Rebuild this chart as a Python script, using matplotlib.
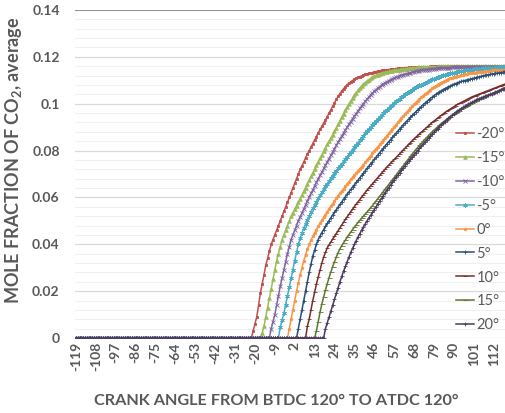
import numpy as np
import matplotlib
matplotlib.use("Agg")
import matplotlib.pyplot as plt

plt.rcParams['font.family'] = ['Lato', 'DejaVu Sans']
plt.rcParams['mathtext.default'] = 'regular'

# crank angle categories, one per degree
angles = np.arange(-119, 121)
tick_angles = list(range(-119, 121, 11))

labels = ['-20°', '-15°', '-10°', '-5°', '0°', '5°', '10°', '15°', '20°']
# first crank angle with non-zero CO2 for each injection timing
rise_start = [-21, -16, -11, -6, -1, 4, 9, 14, 19]

co2_m20 = [
    0.003, 0.006, 0.009, 0.014, 0.019, 0.023, 0.027, 0.031, 0.034, 0.037,
    0.040, 0.042, 0.044, 0.046, 0.048, 0.050, 0.052, 0.054, 0.056, 0.058,
    0.060, 0.062, 0.064, 0.066, 0.068, 0.070, 0.072, 0.0735, 0.075, 0.077,
    0.0785, 0.080, 0.0815, 0.083, 0.0845, 0.086, 0.0875, 0.089, 0.0903, 0.0917,
    0.0931, 0.0945, 0.0960, 0.0975, 0.0990, 0.1004, 0.1018, 0.1031, 0.1043, 0.1054,
    0.1064, 0.1073, 0.1081, 0.1088, 0.1094, 0.1099, 0.1104, 0.1108, 0.1112, 0.1116,
    0.1119, 0.1122, 0.1125, 0.1127, 0.1129, 0.1131, 0.1133, 0.1135, 0.1137, 0.1139,
    0.1140, 0.1142, 0.1143, 0.1144, 0.1145, 0.1146, 0.1147, 0.1148, 0.1149, 0.1150,
    0.1151, 0.1152, 0.1153, 0.1153, 0.1154, 0.1154, 0.1155, 0.1155, 0.1156, 0.1156,
    0.1157, 0.1157, 0.1157, 0.1158, 0.1158, 0.1158, 0.1158, 0.1158, 0.1159, 0.1159,
    0.1159, 0.1159, 0.1159, 0.1159, 0.1159, 0.1159, 0.1159, 0.1159, 0.1159, 0.1159,
    0.1159, 0.1159, 0.1160, 0.1160, 0.1160, 0.1160, 0.1160, 0.1160, 0.1160, 0.1160,
    0.1160, 0.1160, 0.1160, 0.1160, 0.1160, 0.1160, 0.1160, 0.1160, 0.1160, 0.1160,
    0.1160, 0.1160, 0.1160, 0.1160, 0.1160, 0.1160, 0.1160, 0.1160, 0.1160, 0.1160,
    0.1160, 0.1160,
]
co2_m15 = [
    0.002, 0.005, 0.009, 0.013, 0.017, 0.021, 0.025, 0.029, 0.033, 0.036,
    0.039, 0.042, 0.044, 0.046, 0.048, 0.050, 0.052, 0.0535, 0.055, 0.0565,
    0.058, 0.0595, 0.061, 0.0626, 0.0642, 0.0658, 0.0674, 0.069, 0.0706, 0.0722,
    0.0737, 0.0752, 0.0767, 0.0782, 0.0797, 0.0812, 0.0826, 0.0840, 0.0854, 0.0868,
    0.0882, 0.0896, 0.0912, 0.0928, 0.0943, 0.0958, 0.0972, 0.0986, 0.0999, 0.1012,
    0.1024, 0.1036, 0.1047, 0.1057, 0.1066, 0.1075, 0.1083, 0.1090, 0.1097, 0.1103,
    0.1108, 0.1113, 0.1117, 0.1121, 0.1124, 0.1127, 0.1130, 0.1132, 0.1134, 0.1136,
    0.1138, 0.1140, 0.1141, 0.1143, 0.1144, 0.1145, 0.1146, 0.1147, 0.1148, 0.1149,
    0.1150, 0.1151, 0.1152, 0.1153, 0.1154, 0.1154, 0.1155, 0.1155, 0.1156, 0.1156,
    0.1157, 0.1157, 0.1157, 0.1158, 0.1158, 0.1158, 0.1158, 0.1158, 0.1159, 0.1159,
    0.1159, 0.1159, 0.1159, 0.1159, 0.1159, 0.1159, 0.1159, 0.1159, 0.1159, 0.1159,
    0.1159, 0.1159, 0.1160, 0.1160, 0.1160, 0.1160, 0.1160, 0.1160, 0.1160, 0.1160,
    0.1160, 0.1160, 0.1160, 0.1160, 0.1160, 0.1160, 0.1160, 0.1160, 0.1160, 0.1160,
    0.1160, 0.1160, 0.1160, 0.1160, 0.1160, 0.1160, 0.1160,
]
co2_m10 = [
    0.004, 0.007, 0.010, 0.014, 0.018, 0.022, 0.0255, 0.029, 0.0325, 0.036,
    0.039, 0.042, 0.044, 0.046, 0.048, 0.050, 0.0517, 0.0534, 0.0551, 0.0568,
    0.0585, 0.0601, 0.0617, 0.0633, 0.0649, 0.0664, 0.0679, 0.0694, 0.0709, 0.0724,
    0.0738, 0.0752, 0.0766, 0.0780, 0.0794, 0.0808, 0.0822, 0.0836, 0.0849, 0.0862,
    0.0875, 0.0888, 0.0900, 0.0912, 0.0924, 0.0936, 0.0947, 0.0958, 0.0969, 0.0980,
    0.0990, 0.1000, 0.1010, 0.1019, 0.1028, 0.1037, 0.1045, 0.1053, 0.1060, 0.1067,
    0.1073, 0.1079, 0.1084, 0.1089, 0.1094, 0.1098, 0.1102, 0.1106, 0.1110, 0.1113,
    0.1116, 0.1119, 0.1122, 0.1124, 0.1126, 0.1128, 0.1130, 0.1132, 0.1134, 0.1136,
    0.1138, 0.1140, 0.1141, 0.1142, 0.1143, 0.1144, 0.1145, 0.1146, 0.1147, 0.1148,
    0.1149, 0.1150, 0.1151, 0.1151, 0.1152, 0.1152, 0.1153, 0.1153, 0.1154, 0.1154,
    0.1155, 0.1155, 0.1155, 0.1156, 0.1156, 0.1156, 0.1157, 0.1157, 0.1157, 0.1157,
    0.1158, 0.1158, 0.1158, 0.1158, 0.1158, 0.1158, 0.1158, 0.1158, 0.1158, 0.1158,
    0.1158, 0.1158, 0.1158, 0.1158, 0.1158, 0.1158, 0.1158, 0.1158, 0.1158, 0.1158,
    0.1158, 0.1158,
]
co2_m5 = [
    0.0046, 0.0075, 0.0105, 0.0142, 0.018, 0.0218, 0.0255, 0.0292, 0.033, 0.0365,
    0.0400, 0.0425, 0.0448, 0.0468, 0.0487, 0.0505, 0.0522, 0.0538, 0.0553, 0.0568,
    0.0582, 0.0596, 0.0609, 0.0622, 0.0635, 0.0647, 0.0659, 0.0671, 0.0682, 0.0693,
    0.0704, 0.0714, 0.0724, 0.0734, 0.0744, 0.0754, 0.0764, 0.0774, 0.0784, 0.0794,
    0.0804, 0.0814, 0.0824, 0.0834, 0.0844, 0.0854, 0.0864, 0.0873, 0.0882, 0.0891,
    0.0900, 0.0909, 0.0918, 0.0927, 0.0935, 0.0943, 0.0951, 0.0959, 0.0967, 0.0975,
    0.0982, 0.0989, 0.0996, 0.1003, 0.1010, 0.1016, 0.1022, 0.1028, 0.1034, 0.1040,
    0.1045, 0.1050, 0.1055, 0.1060, 0.1065, 0.1070, 0.1074, 0.1078, 0.1082, 0.1086,
    0.1090, 0.1094, 0.1098, 0.1101, 0.1104, 0.1107, 0.1110, 0.1113, 0.1116, 0.1119,
    0.1121, 0.1123, 0.1125, 0.1127, 0.1129, 0.1131, 0.1133, 0.1135, 0.1137, 0.1139,
    0.1140, 0.1141, 0.1142, 0.1143, 0.1144, 0.1145, 0.1146, 0.1147, 0.1148, 0.1149,
    0.1150, 0.1150, 0.1151, 0.1151, 0.1152, 0.1152, 0.1153, 0.1153, 0.1154, 0.1154,
    0.1155, 0.1155, 0.1155, 0.1156, 0.1156, 0.1156, 0.1157,
]
co2_0 = [
    0.004, 0.008, 0.012, 0.016, 0.020, 0.0235, 0.027, 0.030, 0.033, 0.0355,
    0.038, 0.040, 0.0418, 0.0434, 0.0449, 0.0463, 0.0476, 0.0489, 0.0502, 0.0515,
    0.0527, 0.0539, 0.0551, 0.0563, 0.0574, 0.0585, 0.0596, 0.0607, 0.0617, 0.0627,
    0.0637, 0.0647, 0.0657, 0.0667, 0.0677, 0.0686, 0.0695, 0.0704, 0.0713, 0.0722,
    0.0731, 0.0740, 0.0750, 0.0759, 0.0769, 0.0778, 0.0788, 0.0797, 0.0807, 0.0816,
    0.0826, 0.0835, 0.0845, 0.0854, 0.0864, 0.0873, 0.0883, 0.0892, 0.0902, 0.0911,
    0.0920, 0.0929, 0.0938, 0.0947, 0.0956, 0.0965, 0.0973, 0.0981, 0.0989, 0.0997,
    0.1005, 0.1013, 0.1020, 0.1027, 0.1034, 0.1041, 0.1047, 0.1053, 0.1059, 0.1065,
    0.1071, 0.1076, 0.1081, 0.1086, 0.1090, 0.1094, 0.1098, 0.1102, 0.1105, 0.1108,
    0.1111, 0.1114, 0.1116, 0.1118, 0.1120, 0.1122, 0.1124, 0.1126, 0.1127, 0.1129,
    0.1130, 0.1131, 0.1132, 0.1133, 0.1134, 0.1135, 0.1136, 0.1137, 0.1138, 0.1139,
    0.1140, 0.1141, 0.1142, 0.1142, 0.1143, 0.1143, 0.1144, 0.1144, 0.1145, 0.1145,
    0.1146, 0.1146,
]
co2_p5 = [
    0.004, 0.008, 0.012, 0.016, 0.020, 0.024, 0.028, 0.0315, 0.035, 0.0375,
    0.040, 0.042, 0.0435, 0.045, 0.0463, 0.0476, 0.0489, 0.0501, 0.0513, 0.0525,
    0.0537, 0.0548, 0.0559, 0.0570, 0.0581, 0.0592, 0.0603, 0.0614, 0.0624, 0.0634,
    0.0644, 0.0654, 0.0664, 0.0674, 0.0684, 0.0694, 0.0704, 0.0714, 0.0724, 0.0734,
    0.0744, 0.0753, 0.0763, 0.0772, 0.0782, 0.0791, 0.0801, 0.0810, 0.0820, 0.0829,
    0.0838, 0.0847, 0.0856, 0.0865, 0.0874, 0.0883, 0.0892, 0.0901, 0.0910, 0.0918,
    0.0926, 0.0934, 0.0942, 0.0950, 0.0958, 0.0966, 0.0974, 0.0981, 0.0988, 0.0995,
    0.1002, 0.1009, 0.1016, 0.1022, 0.1028, 0.1034, 0.1040, 0.1045, 0.1050, 0.1055,
    0.1060, 0.1064, 0.1068, 0.1072, 0.1076, 0.1080, 0.1083, 0.1086, 0.1089, 0.1092,
    0.1095, 0.1097, 0.1099, 0.1101, 0.1103, 0.1105, 0.1107, 0.1109, 0.1111, 0.1113,
    0.1115, 0.1117, 0.1119, 0.1121, 0.1122, 0.1124, 0.1125, 0.1127, 0.1128, 0.1130,
    0.1131, 0.1132, 0.1133, 0.1134, 0.1135, 0.1136, 0.1137,
]
co2_p10 = [
    0.005, 0.008, 0.012, 0.016, 0.0195, 0.023, 0.026, 0.029, 0.032, 0.0345,
    0.0365, 0.0385, 0.0398, 0.0410, 0.0422, 0.0434, 0.0446, 0.0458, 0.0470, 0.0482,
    0.0494, 0.0506, 0.0517, 0.0528, 0.0539, 0.0550, 0.0561, 0.0571, 0.0581, 0.0591,
    0.0601, 0.0611, 0.0621, 0.0631, 0.0640, 0.0649, 0.0658, 0.0667, 0.0676, 0.0685,
    0.0694, 0.0703, 0.0712, 0.0721, 0.0730, 0.0738, 0.0746, 0.0754, 0.0762, 0.0770,
    0.0778, 0.0786, 0.0794, 0.0802, 0.0810, 0.0818, 0.0826, 0.0834, 0.0842, 0.0850,
    0.0857, 0.0864, 0.0871, 0.0878, 0.0885, 0.0892, 0.0899, 0.0906, 0.0913, 0.0920,
    0.0926, 0.0932, 0.0938, 0.0944, 0.0950, 0.0956, 0.0962, 0.0967, 0.0972, 0.0977,
    0.0982, 0.0987, 0.0992, 0.0997, 0.1001, 0.1005, 0.1009, 0.1013, 0.1017, 0.1021,
    0.1025, 0.1029, 0.1032, 0.1035, 0.1038, 0.1041, 0.1044, 0.1047, 0.1050, 0.1053,
    0.1056, 0.1059, 0.1062, 0.1065, 0.1068, 0.1071, 0.1074, 0.1077, 0.1080, 0.1083,
    0.1085, 0.1088,
]
co2_p15 = [
    0.003, 0.007, 0.011, 0.0145, 0.0175, 0.0205, 0.0232, 0.0258, 0.0282, 0.0305,
    0.0326, 0.0346, 0.0364, 0.0380, 0.0394, 0.0406, 0.0418, 0.0430, 0.0441, 0.0452,
    0.0463, 0.0473, 0.0483, 0.0493, 0.0502, 0.0511, 0.0520, 0.0529, 0.0538, 0.0547,
    0.0556, 0.0565, 0.0575, 0.0585, 0.0595, 0.0605, 0.0615, 0.0625, 0.0635, 0.0645,
    0.0655, 0.0665, 0.0675, 0.0685, 0.0695, 0.0705, 0.0715, 0.0725, 0.0735, 0.0745,
    0.0755, 0.0765, 0.0775, 0.0785, 0.0795, 0.0804, 0.0813, 0.0822, 0.0831, 0.0840,
    0.0848, 0.0856, 0.0864, 0.0872, 0.0880, 0.0887, 0.0894, 0.0901, 0.0908, 0.0915,
    0.0921, 0.0927, 0.0933, 0.0939, 0.0945, 0.0951, 0.0956, 0.0961, 0.0966, 0.0971,
    0.0976, 0.0981, 0.0986, 0.0990, 0.0994, 0.0998, 0.1002, 0.1006, 0.1010, 0.1014,
    0.1018, 0.1022, 0.1026, 0.1030, 0.1033, 0.1036, 0.1039, 0.1042, 0.1045, 0.1048,
    0.1053, 0.1057, 0.1061, 0.1065, 0.1068, 0.1071, 0.1074,
]
co2_p20 = [
    0.004, 0.0065, 0.009, 0.0115, 0.014, 0.0165, 0.019, 0.0215, 0.024, 0.0263,
    0.0285, 0.0306, 0.0326, 0.0346, 0.0365, 0.0383, 0.0400, 0.0416, 0.0431, 0.0446,
    0.0460, 0.0474, 0.0487, 0.0500, 0.0512, 0.0524, 0.0536, 0.0548, 0.0560, 0.0572,
    0.0584, 0.0596, 0.0608, 0.0620, 0.0631, 0.0642, 0.0653, 0.0664, 0.0675, 0.0686,
    0.0695, 0.0705, 0.0715, 0.0725, 0.0735, 0.0745, 0.0755, 0.0764, 0.0773, 0.0782,
    0.0791, 0.0800, 0.0809, 0.0818, 0.0827, 0.0836, 0.0845, 0.0854, 0.0862, 0.0870,
    0.0878, 0.0886, 0.0894, 0.0902, 0.0910, 0.0917, 0.0924, 0.0931, 0.0938, 0.0945,
    0.0951, 0.0957, 0.0963, 0.0969, 0.0974, 0.0979, 0.0984, 0.0989, 0.0994, 0.0998,
    0.1002, 0.1006, 0.1010, 0.1014, 0.1018, 0.1022, 0.1025, 0.1028, 0.1031, 0.1034,
    0.1037, 0.1040, 0.1043, 0.1046, 0.1049, 0.1052, 0.1055, 0.1058, 0.1061, 0.1063,
    0.1065, 0.1067,
]
series_values = [co2_m20, co2_m15, co2_m10, co2_m5, co2_0,
                 co2_p5, co2_p10, co2_p15, co2_p20]

colors = ['#C0504D', '#9BBB59', '#8064A2', '#4BACC6', '#F79646',
          '#2C4D75', '#772C2A', '#5F7530', '#4D3B62']
markers = ['s', '^', 'x', (6, 2, 0), 'o', '+', '_', '_', '+']
msizes = [2.0, 2.6, 2.8, 3.2, 1.8, 3.2, 3.0, 3.6, 2.8]

txt = '#595959'

fig = plt.figure(figsize=(5.06, 4.13), dpi=100)
# plot area runs slightly past the right edge of the figure
ax = fig.add_axes([75 / 506, 75 / 413, 434 / 506, 328 / 413])

for lab, x0, vals, c, m, ms in zip(labels, rise_start, series_values,
                                  colors, markers, msizes):
    y = np.zeros(len(angles))
    i0 = x0 - angles[0]
    y[i0:i0 + len(vals)] = vals
    ax.plot(angles, y, color=c, lw=1.1, marker=m, ms=ms, mew=0.6,
            mfc=c, mec=c, label=lab, zorder=3)

ax.set_xlim(-119.5, 120.5)
ax.set_ylim(0, 0.14)

ax.set_yticks(np.arange(0, 0.141, 0.02))
ax.set_yticklabels(['0', '0.02', '0.04', '0.06', '0.08', '0.1', '0.12', '0.14'])
ax.set_yticks(np.arange(0, 0.1401, 0.004), minor=True)
ax.set_xticks(tick_angles)
ax.set_xticklabels([str(a) for a in tick_angles], rotation=90)

ax.grid(axis='y', which='major', color='#D9D9D9', lw=0.9, zorder=0)
ax.grid(axis='y', which='minor', color='#F0F0F0', lw=0.8, zorder=0)
ax.axhline(0.14, color='#8C8C8C', lw=1.3, zorder=2)
ax.set_axisbelow(True)

for s in ax.spines.values():
    s.set_visible(False)

ax.tick_params(axis='both', which='both', length=0)
ax.tick_params(axis='y', pad=11, labelsize=10, labelcolor=txt)
ax.tick_params(axis='x', pad=3, labelsize=10, labelcolor=txt)
for t in ax.get_xticklabels() + ax.get_yticklabels():
    t.set_fontweight('bold')

fig.text(14 / 506, 1 - 160 / 413, 'MOLE FRACTION OF CO$_2$, average',
         rotation=90, ha='center', va='center', fontsize=13,
         fontweight='bold', color=txt)
fig.text(276 / 506, 1 - 401 / 413,
         'CRANK ANGLE FROM BTDC 120° TO ATDC 120°',
         ha='center', va='center', fontsize=11.7, fontweight='bold', color=txt)

leg = ax.legend(loc='upper left', bbox_to_anchor=(456 / 506, 1 - 127 / 413),
                bbox_transform=fig.transFigure, frameon=False,
                fontsize=10.5, labelcolor=txt, handlelength=1.25,
                handletextpad=0.15, borderpad=0, borderaxespad=0,
                labelspacing=0.68)

fig.savefig('out.png', dpi=100)
